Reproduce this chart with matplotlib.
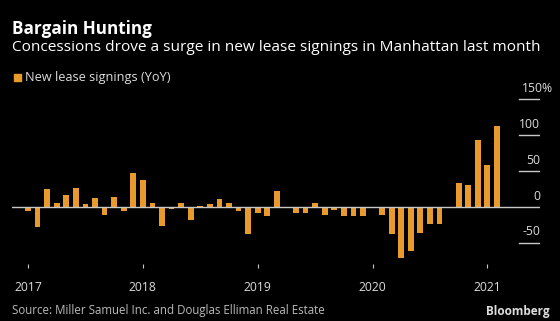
import numpy as np
import matplotlib.pyplot as plt

# monthly YoY change in new lease signings, Jan 2017 - Feb 2021
yoy_2017 = [-5, -28, 25, 5, 17, 26, 4, 12, -11, 14, -5, 48]
yoy_2018 = [38, 6, -27, -3, 5, -18, 1, 4, 11, 6, -6, -38]
yoy_2019 = [-8, -12, 22, -2, -8, -9, 5, -11, -4, -13, -13, -13]
yoy_2020 = [-2, -11, -38, -71, -62, -36, -24, -24, 0.5, 33, 30, 94]
yoy_2021 = [58, 113]
years = ['2017', '2018', '2019', '2020', '2021']
y_ticks = [-50, 0, 50, 100, 150]

values = np.array(yoy_2017 + yoy_2018 + yoy_2019 + yoy_2020 + yoy_2021)
months = np.arange(len(values))

BG = 'black'
ORANGE = '#E99A2C'
GREY = '#c8c8c8'
plt.rcParams['font.family'] = ['Open Sans', 'DejaVu Sans']

W, H = 560, 321
fig = plt.figure(figsize=(W / 100, H / 100), dpi=100, facecolor=BG)

# axes box in pixels: left 12, right 540, top 88, bottom 264
ax = fig.add_axes([12 / W, 1 - 264 / H, (540 - 12) / W, (264 - 88) / H])
ax.set_facecolor(BG)

ax.bar(months, values, width=0.6, color=ORANGE, zorder=2)
ax.axhline(0, color=GREY, lw=1.0, zorder=3)

ax.set_xlim(-1.67, 53.5)
ax.set_ylim(-79.6, 166)

for s in ax.spines.values():
    s.set_visible(False)

ax.set_yticks([])
ax.set_xticks(np.arange(len(years)) * 12)
ax.set_xticklabels(years)
ax.tick_params(axis='x', colors=GREY, length=3, width=0.8, pad=9.5,
               labelsize=8.7, labelcolor='#dddddd')

# right-hand value labels sitting above short guide lines
for v in y_ticks:
    if v != 0:
        ax.axhline(v, xmin=0.96, xmax=1.0, color=GREY, lw=1.0)
    lab = str(v) + ('%' if v == y_ticks[-1] else '')
    xpos = 1.0247 if v == y_ticks[-1] else 1.0
    ax.text(xpos, v + 6, lab, transform=ax.get_yaxis_transform(), ha='right',
            va='bottom', color='#dddddd', fontsize=8.7)

fig.text(12 / W, 1 - 20 / H, 'Bargain Hunting', color='white', fontsize=12.3,
         fontweight='bold', va='top', ha='left')
fig.text(12 / W, 1 - 40 / H,
         'Concessions drove a surge in new lease signings in Manhattan last month',
         color='white', fontsize=11.1, va='top', ha='left')

fig.patches.append(plt.Rectangle((13.5 / W, 1 - 81 / H), 7 / W, 7 / H,
                                 transform=fig.transFigure, color=ORANGE))
fig.text(25 / W, 1 - 71 / H, 'New lease signings (YoY)', color='#dddddd',
         fontsize=9.2, va='top', ha='left')

fig.text(12 / W, 1 - 304 / H,
         'Source: Miller Samuel Inc. and Douglas Elliman Real Estate',
         color='#bbbbbb', fontsize=8.3, va='top', ha='left')
fig.text(550 / W, 1 - 305 / H, 'Bloomberg', color='#dddddd', fontsize=8.5,
         fontweight='bold', va='top', ha='right')

fig.savefig('out.png', dpi=100, facecolor=BG)
